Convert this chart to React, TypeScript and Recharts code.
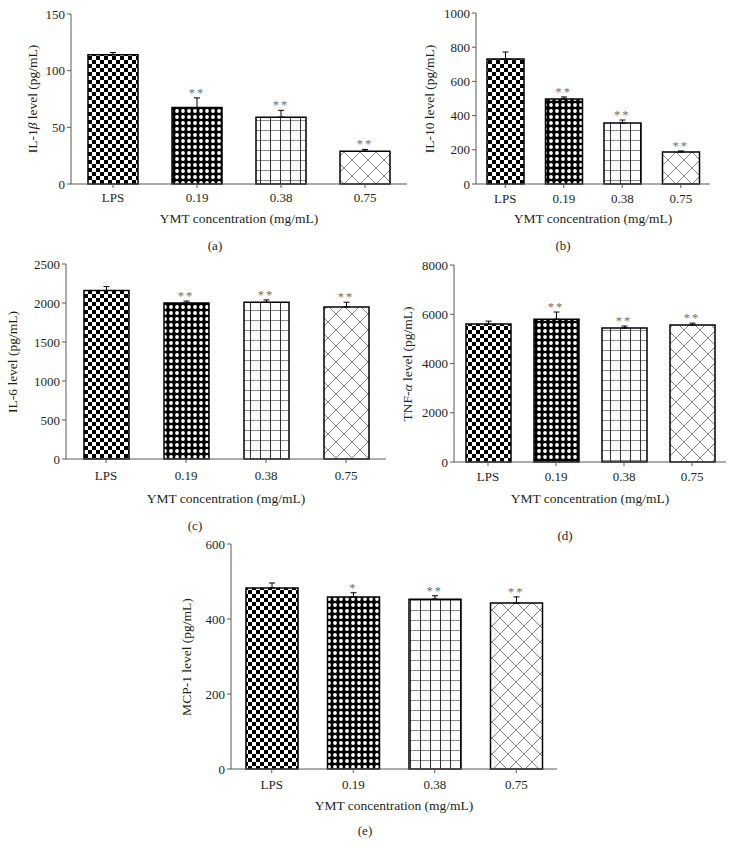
import { ComposedChart, Bar, Line, XAxis, YAxis, ErrorBar, Cell, LabelList } from 'recharts'

// ─── Data ─────────────────────────────────────────────────────────────────────

const CATEGORIES = ['LPS', '0.19', '0.38', '0.75']

const IL1B_VALUES = [114, 67.5, 59, 29]
const IL1B_ERRORS = [2, 8.5, 6, 1.5]
const IL1B_STARS = ['', '**', '**', '**']
const IL1B_TICKS = [0, 50, 100, 150]

const IL10_VALUES = [731, 497, 357, 187]
const IL10_ERRORS = [41, 12, 17, 6]
const IL10_STARS = ['', '**', '**', '**']
const IL10_TICKS = [0, 200, 400, 600, 800, 1000]

const IL6_VALUES = [2160, 2000, 2010, 1950]
const IL6_ERRORS = [50, 25, 30, 60]
const IL6_STARS = ['', '**', '**', '**']
const IL6_TICKS = [0, 500, 1000, 1500, 2000, 2500]

const TNF_VALUES = [5600, 5800, 5440, 5560]
const TNF_ERRORS = [120, 290, 80, 80]
const TNF_STARS = ['', '**', '**', '**']
const TNF_TICKS = [0, 2000, 4000, 6000, 8000]

const MCP1_VALUES = [483, 459, 453, 443]
const MCP1_ERRORS = [13, 11, 9, 16]
const MCP1_STARS = ['', '*', '**', '**']
const MCP1_TICKS = [0, 200, 400, 600]

const X_TITLE = 'YMT concentration (mg/mL)'

// ─── Styles ───────────────────────────────────────────────────────────────────

const FONT = '"Liberation Serif", "DejaVu Serif", serif'
const TEXT = '#231f20'
const AXIS = '#58595b'
const STAR = '#6d6e71'
const tickStyle = { fontSize: 13, fill: TEXT, fontFamily: FONT }

function Patterns({ id }: { id: string }) {
  return (
    <defs>
      <pattern id={`${id}-checker`} width={8} height={8} patternUnits="userSpaceOnUse">
        <rect width={8} height={8} fill="#fff" />
        <rect width={4} height={4} fill="#000" />
        <rect x={4} y={4} width={4} height={4} fill="#000" />
      </pattern>
      <pattern id={`${id}-dots`} width={6} height={6} patternUnits="userSpaceOnUse">
        <rect width={6} height={6} fill="#000" />
        <circle cx={3} cy={3} r={1.9} fill="#fff" />
      </pattern>
      <pattern id={`${id}-grid`} width={10} height={10} patternUnits="userSpaceOnUse">
        <rect width={10} height={10} fill="#fff" />
        <line x1={0} y1={0.5} x2={10} y2={0.5} stroke="#8a8a8a" strokeWidth={1} />
        <line x1={0.5} y1={0} x2={0.5} y2={10} stroke="#333" strokeWidth={1} />
      </pattern>
      <pattern id={`${id}-cross`} width={16} height={16} patternUnits="userSpaceOnUse">
        <rect width={16} height={16} fill="#fff" />
        <line x1={0} y1={0} x2={16} y2={16} stroke="#777" strokeWidth={0.9} />
        <line x1={16} y1={0} x2={0} y2={16} stroke="#777" strokeWidth={0.9} />
      </pattern>
    </defs>
  )
}

const FILLS = ['checker', 'dots', 'grid', 'cross']

// ─── Panel ────────────────────────────────────────────────────────────────────

interface PanelProps {
  id: string
  values: number[]
  errors: number[]
  stars: string[]
  ticks: number[]
  left: number
  top: number
  width: number
  yAxisWidth: number
  plotTop: number
  plotBottom: number
  marginRight: number
  barSize: number
  tickMargin: number
  xTitleOffset: number
}

function Panel(p: PanelProps) {
  const xAxisHeight = 48
  const height = p.plotBottom + xAxisHeight
  const data = CATEGORIES.map((name, i) => ({
    name,
    value: p.values[i],
    err: [0, p.errors[i]],
    top: p.values[i] + p.errors[i],
    star: p.stars[i],
  }))

  return (
    <div style={{ position: 'absolute', left: p.left, top: p.top }}>
      <ComposedChart
        width={p.width}
        height={height}
        data={data}
        margin={{ top: p.plotTop, right: p.marginRight, bottom: 0, left: 0 }}
      >
        <Patterns id={p.id} />
        <XAxis
          dataKey="name"
          height={xAxisHeight}
          tick={tickStyle}
          tickSize={4}
          tickMargin={p.tickMargin}
          stroke={AXIS}
          interval={0}
          label={{
            value: X_TITLE,
            position: 'insideBottom',
            offset: p.xTitleOffset,
            style: { fontSize: 13.5, fill: TEXT, fontFamily: FONT },
          }}
        />
        <YAxis
          width={p.yAxisWidth}
          domain={[0, p.ticks[p.ticks.length - 1]]}
          ticks={p.ticks}
          interval={0}
          tick={tickStyle}
          tickSize={4}
          stroke={AXIS}
        />
        <Bar dataKey="value" barSize={p.barSize} stroke="#000" strokeWidth={1.5} isAnimationActive={false}>
          {data.map((_, i) => (
            <Cell key={i} fill={`url(#${p.id}-${FILLS[i]})`} />
          ))}
          <ErrorBar dataKey="err" width={3} stroke="#000" strokeWidth={1} direction="y" />
        </Bar>
        <Line
          dataKey="top"
          stroke="none"
          dot={false}
          activeDot={false}
          legendType="none"
          isAnimationActive={false}
        >
          <LabelList
            dataKey="star"
            position="top"
            offset={1}
            fill={STAR}
            fontSize={12.5}
            fontFamily={FONT}
            letterSpacing={2}
          />
        </Line>
      </ComposedChart>
    </div>
  )
}

function YTitle({ x, y, children }: { x: number; y: number; children: React.ReactNode }) {
  return (
    <div
      style={{
        position: 'absolute',
        left: x,
        top: y,
        transform: 'translate(-50%, -50%) rotate(-90deg)',
        whiteSpace: 'nowrap',
        fontSize: 13.5,
        color: TEXT,
        lineHeight: 1,
      }}
    >
      {children}
    </div>
  )
}

function Caption({ x, y, text }: { x: number; y: number; text: string }) {
  return (
    <div
      style={{
        position: 'absolute',
        left: x,
        top: y,
        transform: 'translate(-50%, -50%)',
        fontSize: 13,
        color: TEXT,
        lineHeight: 1,
      }}
    >
      {text}
    </div>
  )
}

export default function App() {
  return (
    <div
      style={{
        position: 'absolute',
        left: 0,
        top: 0,
        width: 737,
        height: 856,
        background: '#fff',
        fontFamily: FONT,
        overflow: 'hidden',
      }}
    >
      <Panel
        id="a" values={IL1B_VALUES} errors={IL1B_ERRORS} stars={IL1B_STARS} ticks={IL1B_TICKS}
        left={0} top={0} width={420} yAxisWidth={71} plotTop={14} plotBottom={184}
        marginRight={13} barSize={50} tickMargin={5} xTitleOffset={9.5}
      />
      <Panel
        id="b" values={IL10_VALUES} errors={IL10_ERRORS} stars={IL10_STARS} ticks={IL10_TICKS}
        left={380} top={0} width={340} yAxisWidth={96} plotTop={13} plotBottom={184}
        marginRight={10} barSize={37} tickMargin={6} xTitleOffset={9.5}
      />
      <Panel
        id="c" values={IL6_VALUES} errors={IL6_ERRORS} stars={IL6_STARS} ticks={IL6_TICKS}
        left={0} top={250} width={400} yAxisWidth={66} plotTop={14} plotBottom={209}
        marginRight={14} barSize={45} tickMargin={8} xTitleOffset={4.5}
      />
      <Panel
        id="d" values={TNF_VALUES} errors={TNF_ERRORS} stars={TNF_STARS} ticks={TNF_TICKS}
        left={380} top={250} width={360} yAxisWidth={74} plotTop={15} plotBottom={212}
        marginRight={14} barSize={45} tickMargin={6} xTitleOffset={7.5}
      />
      <Panel
        id="e" values={MCP1_VALUES} errors={MCP1_ERRORS} stars={MCP1_STARS} ticks={MCP1_TICKS}
        left={140} top={530} width={430} yAxisWidth={91} plotTop={14} plotBottom={239}
        marginRight={13} barSize={52} tickMargin={7} xTitleOffset={7.5}
      />

      <YTitle x={33} y={99}>IL-1<i>β</i> level (pg/mL)</YTitle>
      <YTitle x={430} y={99}>IL-10 level (pg/mL)</YTitle>
      <YTitle x={13} y={362}>IL-6 level (pg/mL)</YTitle>
      <YTitle x={408} y={364}>TNF-<i>α</i> level (pg/mL)</YTitle>
      <YTitle x={187} y={657}>MCP-1 level (pg/mL)</YTitle>

      <Caption x={215} y={245} text="(a)" />
      <Caption x={563} y={245} text="(b)" />
      <Caption x={195} y={525} text="(c)" />
      <Caption x={565} y={535} text="(d)" />
      <Caption x={365} y={830} text="(e)" />
    </div>
  )
}
